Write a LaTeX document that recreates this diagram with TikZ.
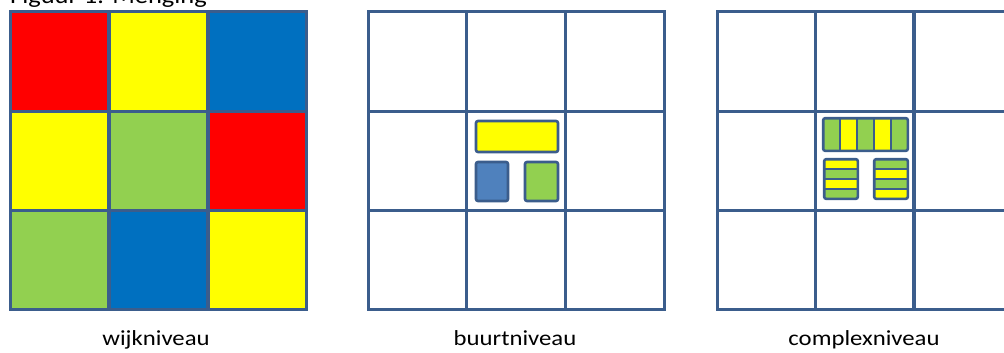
\documentclass[tikz,border=0pt]{standalone}
\usepackage{fontspec}
\setmainfont{Carlito}
\newfontfamily\labfont[FakeStretch=1.15]{Carlito}
\definecolor{gridblue}{HTML}{3B5D8C}
\definecolor{cred}{HTML}{FF0000}
\definecolor{cyellow}{HTML}{FFFF00}
\definecolor{cblue}{HTML}{0070C0}
\definecolor{cgreen}{HTML}{92D050}
\definecolor{sblue}{HTML}{4F81BD}
\begin{document}
\begin{tikzpicture}[x=1pt,y=-1pt,
  cell/.style={draw=gridblue, line width=3pt, minimum width=98.7pt, minimum height=99.3pt, inner sep=0pt, outer sep=0pt, anchor=north west},
  box/.style={draw=gridblue, line width=2.6pt, rounded corners=2pt, inner sep=0pt, outer sep=0pt},
  divider/.style={draw=gridblue, line width=2.4pt},
  lab/.style={font=\labfont\fontsize{21.5}{25}\selectfont, anchor=base, inner sep=0pt},
  ttl/.style={font=\labfont\fontsize{23}{27}\selectfont, anchor=base west, inner sep=0pt}]
\useasboundingbox (0,0) rectangle (1004,353);
\clip (0,0) rectangle (1004,353);
\fill[white] (0,0) rectangle (1004,353);
% title (cut off at the top)
\node[ttl] (title) at (10,4) {Figuur 1: Menging};
% left grid: wijkniveau
\foreach \rr/\cc/\col in {0/0/cred,0/1/cyellow,0/2/cblue,1/0/cyellow,1/1/cgreen,1/2/cred,2/0/cgreen,2/1/cblue,2/2/cyellow}
  \node[cell, fill=\col] (w\rr\cc) at ({10+99*\cc},{12+99.3*\rr}) {};
% middle grid: buurtniveau
\foreach \rr in {0,1,2}
  \foreach \cc in {0,1,2}
    \node[cell] (b\rr\cc) at ({368+98.7*\cc},{12+99.3*\rr}) {};
% right grid: complexniveau
\foreach \rr in {0,1,2}
  \foreach \cc in {0,1,2}
    \node[cell] (k\rr\cc) at ({717+98.4*\cc},{12+99.3*\rr}) {};
% buurt boxes
\node[box, fill=cyellow, minimum width=82pt, minimum height=31pt] (by) at (517,136.5) {};
\node[box, fill=sblue, minimum width=32pt, minimum height=39pt] (bb) at (492,181.5) {};
\node[box, fill=cgreen, minimum width=33pt, minimum height=39pt] (bg) at (541.5,181.5) {};
% complex boxes: top (vertical strips)
\foreach \k/\col in {0/cgreen,1/cyellow,2/cgreen,3/cyellow,4/cgreen}
  \fill[\col] ({823.2+16.92*\k},118.2) rectangle ({823.2+16.92*(\k+1)},150.8);
\foreach \k in {1,...,4}
  \draw[divider] ({823.2+16.92*\k},118.2) -- ({823.2+16.92*\k},150.8);
\node[box, minimum width=84.6pt, minimum height=32.6pt] (ct) at (865.5,134.5) {};
% complex boxes: lower left (horizontal strips)
\foreach \k/\col in {0/cyellow,1/cgreen,2/cyellow,3/cgreen}
  \fill[\col] (824.2,{159.2+9.9*\k}) rectangle (857.8,{159.2+9.9*(\k+1)});
\foreach \k in {1,2,3}
  \draw[divider] (824.2,{159.2+9.9*\k}) -- (857.8,{159.2+9.9*\k});
\node[box, minimum width=33.6pt, minimum height=39.6pt] (cl) at (841,179) {};
% complex boxes: lower right
\foreach \k/\col in {0/cgreen,1/cyellow,2/cgreen,3/cyellow}
  \fill[\col] (874.2,{159.2+9.9*\k}) rectangle (907.8,{159.2+9.9*(\k+1)});
\foreach \k in {1,2,3}
  \draw[divider] (874.2,{159.2+9.9*\k}) -- (907.8,{159.2+9.9*\k});
\node[box, minimum width=33.6pt, minimum height=39.6pt] (cr) at (891,179) {};
% labels
\node[lab] (lw) at (156,345.7) {wijkniveau};
\node[lab] (lb) at (515,345.7) {buurtniveau};
\node[lab] (lc) at (864,345.7) {complexniveau};
\end{tikzpicture}
\end{document}
